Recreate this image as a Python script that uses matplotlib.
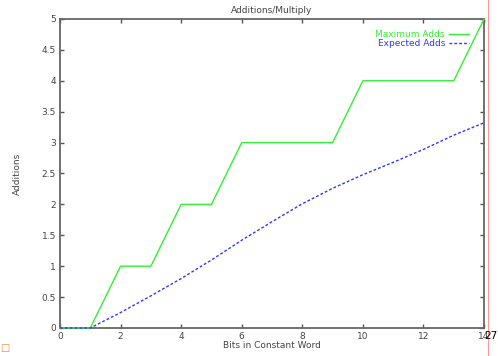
import matplotlib
matplotlib.use("Agg")
import matplotlib.pyplot as plt
from matplotlib.lines import Line2D

bits = [0, 1, 2, 3, 4, 5, 6, 7, 8, 9, 10, 11, 12, 13, 14]
max_adds = [0, 0, 1, 1, 2, 2, 3, 3, 3, 3, 4, 4, 4, 4, 5]
exp_adds = [0, 0, 0.25, 0.52, 0.8, 1.1, 1.42, 1.72, 2.01, 2.26, 2.48, 2.68, 2.89, 3.12, 3.32]
xticks = [0, 2, 4, 6, 8, 10, 12, 14]
yticks = [0, 0.5, 1, 1.5, 2, 2.5, 3, 3.5, 4, 4.5, 5]
ytick_labels = ["0", "0.5", "1", "1.5", "2", "2.5", "3", "3.5", "4", "4.5", "5"]

fig = plt.figure(figsize=(4.98, 3.56), dpi=100)
ax = fig.add_axes([0.1205, 0.0787, 0.8515, 0.868])
ax.plot(bits, max_adds, color="#33ee33", lw=1.0, clip_on=False, zorder=4)
ax.plot(bits, exp_adds, color="#3333ff", lw=1.0, ls=(0, (2, 1.5)), clip_on=False, zorder=5)
ax.set_xlim(0, 14)
ax.set_ylim(0, 5)
ax.set_xticks(xticks)
ax.set_yticks(yticks)
ax.set_yticklabels(ytick_labels)
ax.tick_params(direction="in", length=3, width=1, colors="#555555", labelsize=6.5,
               top=True, right=True, labelcolor="#444444", pad=3)
for s in ax.spines.values():
    s.set_color("#666666")
    s.set_linewidth(1.3)
    s.set_zorder(2)
ax.set_title("Additions/Multiply", fontsize=6.5, color="#444444", pad=4)
ax.set_xlabel("Bits in Constant Word", fontsize=6.5, color="#444444", labelpad=0)
ax.set_ylabel("Additions", fontsize=6.5, color="#444444", labelpad=14)

handles = [Line2D([], [], color="#33ee33", lw=1.0),
           Line2D([], [], color="#3333ff", lw=1.0, ls=(0, (2, 1.5)))]
leg = ax.legend(handles, ["Maximum Adds", "Expected Adds"], loc="upper right",
                bbox_to_anchor=(0.98, 0.985), frameon=False, fontsize=6.5,
                markerfirst=False, handlelength=2.2, handletextpad=0.5,
                labelspacing=0.05, borderpad=0.2)
for t, c in zip(leg.get_texts(), ["#33ee33", "#3333ff"]):
    t.set_color(c)

fig.add_artist(Line2D([488 / 498, 488 / 498], [0, 1], color="#ff9999", lw=0.8,
                      transform=fig.transFigure))
fig.text(484.5 / 498, 1 - 336 / 356, "27", fontsize=7.5, color="black", va="center", ha="left")
fig.text(0.0, 1 - 348 / 356, "\u25a1", fontsize=7, color="#ee8833", va="center", ha="left")

fig.savefig("out.png", dpi=100)
